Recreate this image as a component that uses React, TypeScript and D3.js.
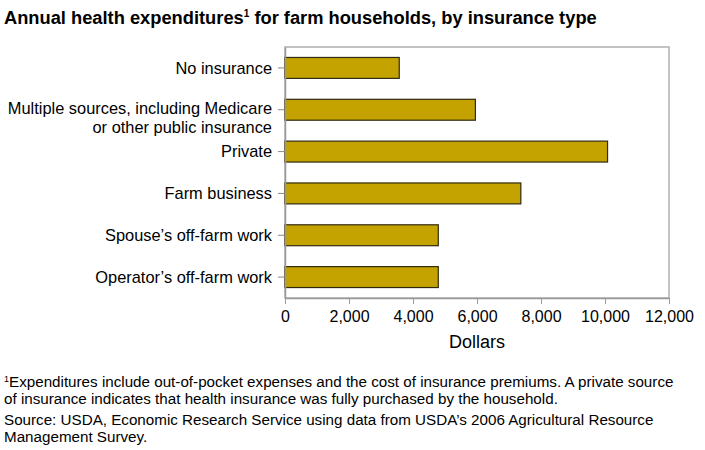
import React, { useEffect, useRef } from 'react';
import * as d3 from 'd3';

const categories = [
  'No insurance',
  'Multiple sources, including Medicare|or other public insurance',
  'Private',
  'Farm business',
  'Spouse’s off-farm work',
  'Operator’s off-farm work',
];
const values = [3570, 5950, 10080, 7370, 4790, 4790];
const xTicks = [0, 2000, 4000, 6000, 8000, 10000, 12000];
const footnoteLines = [
  'Expenditures include out-of-pocket expenses and the cost of insurance premiums. A private source',
  'of insurance indicates that health insurance was fully purchased by the household.',
];
const sourceLines = [
  'Source: USDA, Economic Research Service using data from USDA’s 2006 Agricultural Resource',
  'Management Survey.',
];

const W = 705;
const H = 450;
const FONT = '"Liberation Sans", Arial, Helvetica, sans-serif';
const BAR_COLOR = '#c4a300';

export default function App() {
  const svgRef = useRef<SVGSVGElement>(null);

  useEffect(() => {
    if (!svgRef.current) return;
    const svg = d3.select(svgRef.current);
    svg.selectAll('*').remove();

    const margin = { top: 47, right: 36, bottom: 152, left: 285 };
    const innerW = W - margin.left - margin.right;
    const innerH = H - margin.top - margin.bottom;

    // Title
    const title = svg.append('text')
      .attr('x', 4)
      .attr('y', 24)
      .attr('font-family', FONT)
      .attr('font-size', 18.3)
      .attr('font-weight', 'bold')
      .attr('fill', '#000');
    title.append('tspan').text('Annual health expenditures');
    title.append('tspan').attr('font-size', 10).attr('dy', -7).text('1');
    title.append('tspan').attr('dy', 7).text(' for farm households, by insurance type');

    const g = svg.append('g')
      .attr('transform', `translate(${margin.left}, ${margin.top})`);

    const x = d3.scaleLinear().domain([0, 12000]).range([0, innerW]);
    const y = d3.scaleBand<string>()
      .domain(categories)
      .range([0, innerH])
      .paddingInner(0.5)
      .paddingOuter(0.25);

    // Plot frame
    g.append('rect')
      .attr('x', 0)
      .attr('y', 0)
      .attr('width', innerW)
      .attr('height', innerH)
      .attr('fill', 'none')
      .attr('stroke', '#b0b0b0')
      .attr('stroke-width', 1.5);

    // Bars
    g.selectAll('.bar')
      .data(categories)
      .enter()
      .append('rect')
      .attr('class', 'bar')
      .attr('x', x(0))
      .attr('y', d => y(d)!)
      .attr('width', (d, i) => x(values[i]) - x(0))
      .attr('height', y.bandwidth())
      .attr('fill', BAR_COLOR)
      .attr('stroke', '#2f2a10')
      .attr('stroke-width', 1.2);

    // Y axis
    const yAxis = g.append('g').call(d3.axisLeft(y).tickSize(7).tickSizeOuter(0).tickFormat(() => ''));
    yAxis.select('.domain').attr('stroke', '#999').attr('stroke-width', 1.5);
    yAxis.selectAll('.tick line').attr('stroke', '#888');

    categories.forEach(c => {
      const lines = c.split('|');
      const t = g.append('text')
        .attr('x', -13)
        .attr('y', y(c)! + y.bandwidth() / 2)
        .attr('text-anchor', 'end')
        .attr('font-family', FONT)
        .attr('font-size', 16.4)
        .attr('fill', '#000');
      lines.forEach((l, i) => {
        t.append('tspan')
          .attr('x', -13)
          .attr('dy', i === 0 ? (lines.length > 1 ? '0.25em' : '0.35em') : 19)
          .text(l);
      });
    });

    // X axis
    const xAxis = g.append('g')
      .attr('transform', `translate(0, ${innerH})`)
      .call(d3.axisBottom(x).tickValues(xTicks).tickSize(6).tickSizeOuter(0).tickFormat(d => d3.format(',')(d as number)));
    xAxis.select('.domain').attr('stroke', '#999').attr('stroke-width', 1.5);
    xAxis.selectAll('.tick line').attr('stroke', '#999');
    xAxis.selectAll('.tick text')
      .attr('font-family', FONT)
      .attr('font-size', 16)
      .attr('fill', '#000')
      .attr('dy', '0.95em');

    g.append('text')
      .attr('x', innerW / 2)
      .attr('y', innerH + 50)
      .attr('text-anchor', 'middle')
      .attr('font-family', FONT)
      .attr('font-size', 18)
      .attr('fill', '#000')
      .text('Dollars');

    // Footnotes
    const note = svg.append('g').attr('font-family', FONT).attr('font-size', 15.2).attr('fill', '#000');
    footnoteLines.forEach((l, i) => {
      const t = note.append('text').attr('x', 4).attr('y', 387 + i * 17);
      if (i === 0) {
        t.append('tspan').attr('font-size', 9).attr('dy', -5).text('1');
        t.append('tspan').attr('dy', 5).text(l);
      } else {
        t.text(l);
      }
    });
    sourceLines.forEach((l, i) => {
      note.append('text').attr('x', 4).attr('y', 425 + i * 17).text(l);
    });
  }, []);

  return (
    <div style={{ position: 'absolute', left: 0, top: 0 }}>
      <svg ref={svgRef} width={W} height={H} style={{ display: 'block', background: '#fff' }} />
    </div>
  );
}
